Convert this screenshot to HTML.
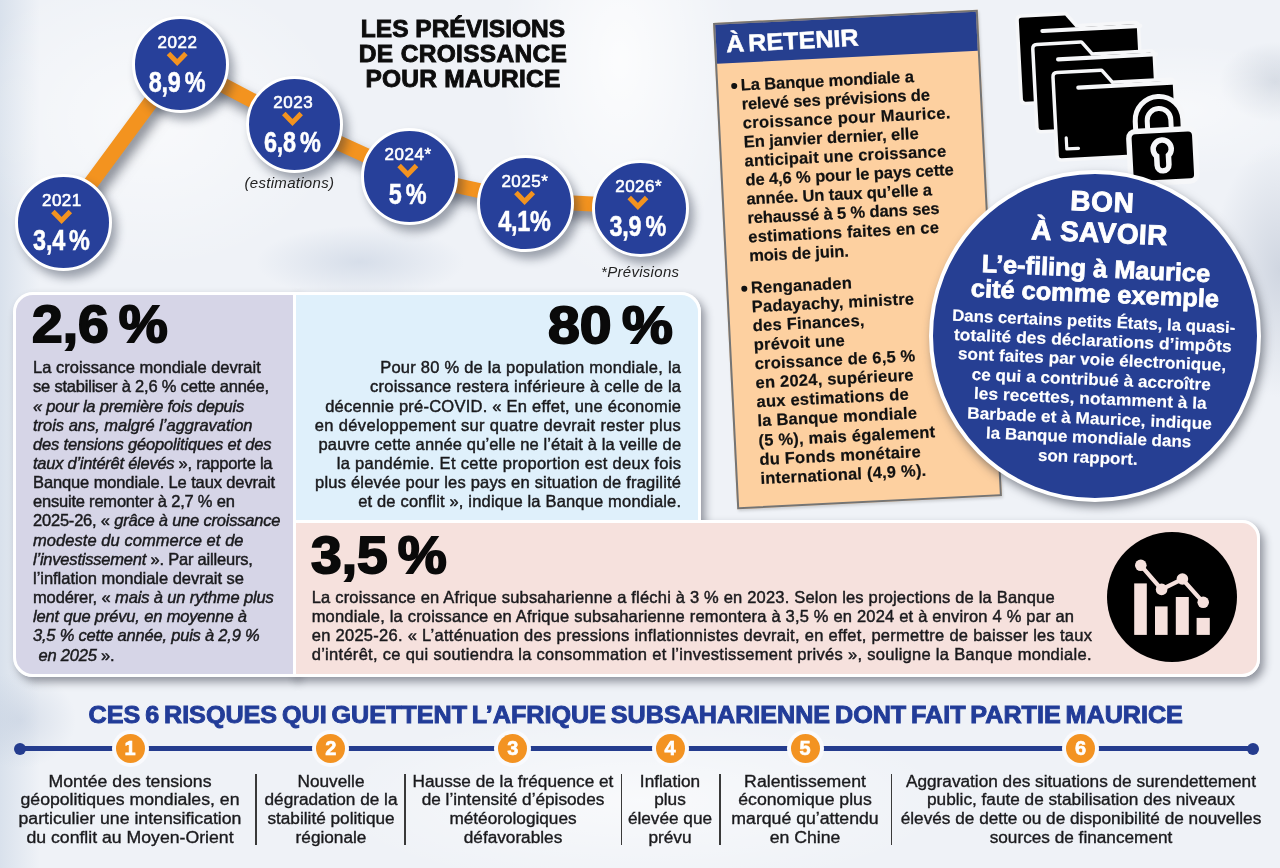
<!DOCTYPE html>
<html lang="fr">
<head>
<meta charset="utf-8">
<title>Les prévisions de croissance pour Maurice</title>
<style>
*{margin:0;padding:0;box-sizing:border-box}
html,body{width:1280px;height:868px;overflow:hidden}
body{position:relative;font-family:"Liberation Sans",sans-serif;color:#1c1c1e;
background:
 radial-gradient(ellipse 160px 300px at 620px 60px, rgba(255,255,255,.8), rgba(255,255,255,0) 75%),
 radial-gradient(ellipse 260px 200px at 150px 120px, rgba(255,255,255,.6), rgba(255,255,255,0) 75%),
 radial-gradient(ellipse 420px 120px at 640px 800px, rgba(255,255,255,.6), rgba(255,255,255,0) 75%),
 radial-gradient(ellipse 200px 90px at 1180px 110px, rgba(255,255,255,.5), rgba(255,255,255,0) 75%),
 radial-gradient(ellipse 90px 170px at 1280px 270px, rgba(170,180,198,.45), rgba(170,180,198,0) 75%),
 radial-gradient(ellipse 70px 50px at 1275px 82px, rgba(175,185,200,.45), rgba(175,185,200,0) 80%),
 radial-gradient(ellipse 130px 45px at 360px 262px, rgba(190,202,220,.5), rgba(190,202,220,0) 80%),
 radial-gradient(ellipse 70px 60px at 20px 720px, rgba(190,202,220,.5), rgba(190,202,220,0) 80%),
 linear-gradient(90deg,rgba(205,216,230,.65) 0px,rgba(205,216,230,0) 40px),
 #eff2f7;}
.abs{position:absolute}
.nw{white-space:nowrap}
/* title */
#title{left:300px;top:17.2px;width:326px;text-align:center;font-weight:bold;font-size:23.8px;line-height:24.7px;letter-spacing:0px;color:#0d0d0d;transform:scaleX(1.03);-webkit-text-stroke:.9px #0d0d0d}
/* growth chart */
.dot{position:absolute;width:97px;height:97px;border-radius:50%;background:#27409a;border:3.5px solid #fff;
 box-shadow:5px 7px 10px rgba(30,40,60,.4);color:#fff;text-align:center}
.dot .yr{position:absolute;left:0;right:0;transform:translateX(var(--dx));top:14.5px;font-size:17px;line-height:20px;letter-spacing:.5px;text-indent:.5px;-webkit-text-stroke:.6px #fff}
.dot svg{position:absolute;left:34px;top:32.5px;transform:translateX(var(--dx))}
.dot .pc{position:absolute;left:-10.6px;right:-10px;top:48px;font-size:30px;font-weight:bold;line-height:30px;transform:translateX(var(--dx)) scaleX(.78);letter-spacing:-.3px;-webkit-text-stroke:.5px #fff}
.ts{letter-spacing:-3px}
.note{font-style:italic;font-size:15px;letter-spacing:.3px;color:#222}

/* panels */
.pan{position:absolute;border:3.5px solid #fff}
.shd{position:absolute;box-shadow:4px 5px 9px rgba(30,35,50,.45)}
.big{position:absolute;font-weight:bold;font-size:52px;line-height:52px;color:#0a0a0a;-webkit-text-stroke:1.9px #0a0a0a;white-space:nowrap;transform:scaleX(1.06);transform-origin:0 0}
.big .sp{letter-spacing:-5px}
.txt{position:absolute;font-size:16.5px;line-height:19.15px;color:#1a1a1d;white-space:nowrap;-webkit-text-stroke:.45px #1a1a1d}
.txt i{font-style:italic}

/* a retenir */
#ret{position:absolute;left:725px;top:15.7px;width:265px;height:487px;transform:rotate(-2.85deg);background:#fdd0a0;border:2px solid #747474;box-shadow:1px 2px 3px rgba(0,0,0,.15)}
#ret .hd{position:absolute;left:0;top:0;right:0;height:39px;background:#263f8f}
#ret .hd span{position:absolute;left:10px;top:7.8px;font-weight:bold;font-size:24px;line-height:24px;color:#fff;transform:scaleX(1.05);transform-origin:0 0;white-space:nowrap;word-spacing:-3px;-webkit-text-stroke:.5px #fff}
#ret .bl{position:absolute;left:22.6px;font-weight:bold;font-size:16.5px;line-height:19.07px;letter-spacing:-.1px;color:#111;white-space:nowrap;-webkit-text-stroke:.2px #111}
#ret .bl:before{content:"";position:absolute;left:-10px;top:7px;width:6px;height:6px;border-radius:50%;background:#111}
/* bon a savoir */
#bon{position:absolute;left:929.3px;top:169.9px;width:332px;height:332px;border-radius:50%;background:#263f93;border:4px solid #fff;box-shadow:3px 5px 10px rgba(30,35,50,.5)}
#bontx{position:absolute;left:942.8px;top:188.4px;width:300px;height:300px;color:#fff;text-align:center;font-weight:bold;transform:rotate(2.5deg);transform-origin:150px 150px;white-space:nowrap}
#bontx div{position:absolute;left:0;right:0}
#bontx .h1{font-size:28px;line-height:28px;letter-spacing:.4px;-webkit-text-stroke:.9px #fff}
#bontx .h2{font-size:25px;line-height:25px;transform:scaleX(1.015);-webkit-text-stroke:.8px #fff}
#bontx .bd{font-size:16.5px;line-height:16.5px;transform:scaleX(1.01);-webkit-text-stroke:.15px #fff}

/* bottom */
#btitle{position:absolute;left:40px;width:1191.5px;top:703.9px;text-align:center;font-weight:bold;font-size:23.4px;line-height:23.4px;color:#223c98;white-space:nowrap;transform:scaleX(1.075);word-spacing:-2px;-webkit-text-stroke:.9px #223c98}
.num{position:absolute;width:37px;height:37px;border-radius:50%;background:#f9fafd;}
.num span{position:absolute;left:4px;top:4px;width:29px;height:29px;border-radius:50%;background:#f39322;color:#fff;font-weight:bold;font-size:20px;line-height:29.5px;text-align:center;-webkit-text-stroke:.6px #fff}
.col{position:absolute;top:772.7px;width:400px;text-align:center;font-size:16px;line-height:18.8px;color:#1a1a1d;white-space:nowrap;transform:scaleX(1.075);-webkit-text-stroke:.35px #1a1a1d}
.sep{position:absolute;top:774px;width:1.6px;height:71px;background:#3a3a3a}
</style>
</head>
<body>

<!-- orange line -->
<svg class="abs" style="left:0;top:0;filter:drop-shadow(4px 8px 6px rgba(40,45,60,.55))" width="720" height="300">
 <polyline points="63,221 180,62.5 294,122.5 409,175 524.5,200.5 640.5,206.5" fill="none" stroke="#f3931f" stroke-width="15" stroke-linejoin="miter"/>
</svg>

<div id="title" class="abs">LES PRÉVISIONS<br><span style="letter-spacing:.3px">DE CROISSANCE</span><br><span style="letter-spacing:.25px">POUR MAURICE</span></div>

<div class="dot" style="left:14.5px;top:173.5px;--dx:-1.4px"><div class="yr">2021</div><svg width="22" height="16"><polyline points="2.3,2.6 11,11.4 19.7,2.6" fill="none" stroke="#f3931f" stroke-width="5"/></svg><div class="pc">3,4<span class="ts"> </span>%</div></div>
<div class="dot" style="left:131.5px;top:15.5px;--dx:-2.8px"><div class="yr">2022</div><svg width="22" height="16"><polyline points="2.3,2.6 11,11.4 19.7,2.6" fill="none" stroke="#f3931f" stroke-width="5"/></svg><div class="pc">8,9<span class="ts"> </span>%</div></div>
<div class="dot" style="left:246px;top:75.5px;--dx:-1.5px"><div class="yr">2023</div><svg width="22" height="16"><polyline points="2.3,2.6 11,11.4 19.7,2.6" fill="none" stroke="#f3931f" stroke-width="5"/></svg><div class="pc">6,8<span class="ts"> </span>%</div></div>
<div class="dot" style="left:360.5px;top:127.5px;--dx:-1.2px"><div class="yr">2024*</div><svg width="22" height="16"><polyline points="2.3,2.6 11,11.4 19.7,2.6" fill="none" stroke="#f3931f" stroke-width="5"/></svg><div class="pc">5<span class="ts"> </span>%</div></div>
<div class="dot" style="left:476.5px;top:154.5px;--dx:-0.4px"><div class="yr">2025*</div><svg width="22" height="16"><polyline points="2.3,2.6 11,11.4 19.7,2.6" fill="none" stroke="#f3931f" stroke-width="5"/></svg><div class="pc">4,1%</div></div>
<div class="dot" style="left:592px;top:159.5px;--dx:-2.1px"><div class="yr">2026*</div><svg width="22" height="16"><polyline points="2.3,2.6 11,11.4 19.7,2.6" fill="none" stroke="#f3931f" stroke-width="5"/></svg><div class="pc">3,9<span class="ts"> </span>%</div></div>

<div class="abs note nw" style="left:244.5px;top:174px">(estimations)</div>
<div class="abs note nw" style="left:601px;top:263px">*Prévisions</div>


<div class="shd" style="left:13px;top:292px;width:283px;height:384.5px;border-radius:20px 0 0 20px"></div>
<div class="shd" style="left:292px;top:292px;width:408.5px;height:231.5px;border-radius:0 20px 0 0"></div>
<div class="shd" style="left:292px;top:520px;width:967.5px;height:156.5px;border-radius:0 18px 18px 0"></div>
<div class="pan" style="left:13px;top:292px;width:282.5px;height:384.5px;border-radius:20px 0 0 20px;background:#d6d5e7"></div>
<div class="pan" style="left:292.5px;top:292px;width:408px;height:231.5px;border-radius:0 20px 0 0;background:#dff0fb"></div>
<div class="pan" style="left:292.5px;top:520px;width:967px;height:156.5px;border-radius:0 18px 18px 0;background:#f6e1dd"></div>

<div class="big" style="left:31.8px;top:298.4px">2,6<span class="sp"> </span>%</div>
<div class="big" style="left:548px;top:299px;transform:scaleX(1.1)">80<span class="sp"> </span>%</div>
<div class="big" style="left:311px;top:528.6px">3,5<span class="sp"> </span>%</div>

<div class="txt" style="left:33px;top:358.2px;letter-spacing:-0.21px"><span style="letter-spacing:0.01px">La croissance mondiale devrait</span><br>se stabiliser à 2,6 % cette année,<br><i>« pour la première fois depuis</i><br><i style="letter-spacing:-0.02px">trois ans, malgré l’aggravation</i><br><i style="letter-spacing:-0.17px">des tensions géopolitiques et des</i><br><i style="letter-spacing:-.26px">taux d’intérêt élevés</i><span style="letter-spacing:-.26px"> », rapporte la</span><br><span style="letter-spacing:-0.12px">Banque mondiale. Le taux devrait</span><br>ensuite remonter à 2,7 % en<br>2025-26, « <i>grâce à une croissance</i><br><i style="letter-spacing:0.06px">modeste du commerce et de</i><br><i>l’investissement</i> ». Par ailleurs,<br><span style="letter-spacing:-0.03px">l’inflation mondiale devrait se</span><br><span style="letter-spacing:-0.13px">modérer, « <i>mais à un rythme plus</i></span><br><i style="letter-spacing:-0.16px">lent que prévu, en moyenne à</i><br><i>3,5 % cette année, puis à 2,9 %</i><br><i><span style="margin-left:5.5px">en 2025</span></i> ».</div>

<div class="txt" style="right:598.8px;top:358.3px;text-align:right;letter-spacing:0.24px">Pour 80 % de la population mondiale, la<br>croissance restera inférieure à celle de la<br>décennie pré-COVID. « En effet, une économie<br><span style="letter-spacing:0.34px">en développement sur quatre devrait rester plus</span><br><span style="letter-spacing:0.13px">pauvre cette année qu’elle ne l’était à la veille de</span><br><span style="letter-spacing:0.29px">la pandémie. Et cette proportion est deux fois</span><br><span style="letter-spacing:0.2px">plus élevée pour les pays en situation de fragilité</span><br><span style="letter-spacing:0.17px">et de conflit », indique la Banque mondiale.</span></div>

<div class="txt" style="left:311.7px;top:587.7px;letter-spacing:0.19px"><span style="letter-spacing:0.19px">La croissance en Afrique subsaharienne a fléchi à 3 % en 2023. Selon les projections de la Banque</span><br>mondiale, la croissance en Afrique subsaharienne remontera à 3,5 % en 2024 et à environ 4 % par an<br><span style="letter-spacing:0.28px">en 2025-26. « L’atténuation des pressions inflationnistes devrait, en effet, permettre de baisser les taux</span><br><span style="letter-spacing:0.29px">d’intérêt, ce qui soutiendra la consommation et l’investissement privés », souligne la Banque mondiale.</span></div>

<!-- chart icon -->
<svg class="abs" style="left:1107px;top:532px" width="130" height="130" viewBox="1107 532 130 130">
 <circle cx="1172" cy="597" r="65" fill="#000"/>
 <g fill="#f6e1dd">
  <rect x="1134.2" y="583.4" width="12.6" height="51.5"/>
  <rect x="1155" y="606.4" width="12.6" height="28.5"/>
  <rect x="1175.8" y="597" width="13" height="37.9"/>
  <rect x="1196.6" y="617.9" width="13.2" height="17"/>
 </g>
 <polyline points="1140.8,565.3 1161.6,589.4 1182.4,579 1203.2,602.3" fill="none" stroke="#f6e1dd" stroke-width="4.2"/>
 <g fill="#f6e1dd"><circle cx="1140.8" cy="565.3" r="5.8"/><circle cx="1161.6" cy="589.4" r="5.8"/><circle cx="1182.4" cy="579" r="5.8"/><circle cx="1203.2" cy="602.3" r="5.8"/></g>
</svg>



<div id="ret">
 <div class="hd"><span>À RETENIR</span></div>
 <div class="bl" style="top:51.7px">La Banque mondiale a<br>relevé ses prévisions de<br><span style="letter-spacing:.39px">croissance pour Maurice.</span><br><span style="letter-spacing:0">En janvier dernier, elle</span><br><span style="letter-spacing:.19px">anticipait une croissance</span><br>de 4,6 % pour le pays cette<br>année. Un taux qu’elle a<br>rehaussé à 5 % dans ses<br><span style="letter-spacing:.2px">estimations faites en ce</span><br>mois de juin.</div>
 <div class="bl" style="top:255px;letter-spacing:.22px">Renganaden<br>Padayachy, ministre<br>des Finances,<br>prévoit une<br>croissance de 6,5 %<br>en 2024, supérieure<br>aux estimations de<br>la Banque mondiale<br>(5 %), mais également<br>du Fonds monétaire<br>international (4,9 %).</div>
</div>



<svg class="abs" style="left:1000px;top:0" width="220" height="200" viewBox="1000 0 220 200">
 <g transform="translate(1018.7,17.9) rotate(-3)"><path d="M0,2.5 Q0,0 2.5,0 L46.5,0 L56.5,12.5 L115,12.5 Q117.5,12.5 117.5,15 L117.5,81.5 Q117.5,84 115,84 L2.5,84 Q0,84 0,81.5 Z" fill="#000" stroke="#f6f7f9" stroke-width="7" paint-order="stroke" stroke-linejoin="round"/><path d="M23,14.3 L121,14.3" stroke="#f6f7f9" stroke-width="4.2" stroke-linecap="round"/></g>
 <g transform="translate(1034.4,46.3) rotate(-3)"><path d="M0,2.5 Q0,0 2.5,0 L46.5,0 L56.5,12.5 L115,12.5 Q117.5,12.5 117.5,15 L117.5,81.5 Q117.5,84 115,84 L2.5,84 Q0,84 0,81.5 Z" fill="#000" stroke="#f6f7f9" stroke-width="7" paint-order="stroke" stroke-linejoin="round"/><path d="M23,14.3 L121,14.3" stroke="#f6f7f9" stroke-width="4.2" stroke-linecap="round"/></g>
 <g transform="translate(1054.6,74.5) rotate(-3)"><path d="M0,2.5 Q0,0 2.5,0 L46.5,0 L56.5,12.5 L115,12.5 Q117.5,12.5 117.5,15 L117.5,81.5 Q117.5,84 115,84 L2.5,84 Q0,84 0,81.5 Z" fill="#000" stroke="#f6f7f9" stroke-width="7" paint-order="stroke" stroke-linejoin="round"/><path d="M23,14.3 L121,14.3" stroke="#f6f7f9" stroke-width="4.2" stroke-linecap="round"/><path d="M8.3,63.8 L8.3,75 L20,75" fill="none" stroke="#f6f7f9" stroke-width="3.2" stroke-linecap="round" stroke-linejoin="round"/></g>
 <g transform="rotate(-3 1162 145)">
  <path d="M1142.5,134 L1142.5,120.1 A17.8,17.8 0 0 1 1178.1,120.1 L1178.1,134" fill="none" stroke="#f6f7f9" stroke-width="17"/>
  <path d="M1142.5,134 L1142.5,120.1 A17.8,17.8 0 0 1 1178.1,120.1 L1178.1,134" fill="none" stroke="#000" stroke-width="7"/>
  <rect x="1132" y="132.8" width="60.5" height="47" rx="4" fill="#000" stroke="#f6f7f9" stroke-width="11" paint-order="stroke"/>
  <path d="M1158.85,154.46 A6.3,6.3 0 1 1 1165.15,154.46 L1165.15,165 A3.15,3.15 0 0 1 1158.85,165 Z" fill="#000" stroke="#f6f7f9" stroke-width="11" stroke-linejoin="round" paint-order="stroke"/>
 </g>
</svg>



<div id="bon"></div>
<div id="bontx">
 <div class="h1" style="top:-0.3px;left:7px;letter-spacing:.6px">BON</div>
 <div class="h1" style="top:30.7px;left:4px">À SAVOIR</div>
 <div class="h2" style="top:68.3px">L’e-filing à Maurice</div>
 <div class="h2" style="top:93.2px">cité comme exemple</div>
 <div class="bd" style="top:124.5px;transform:scaleX(1.020)">Dans certains petits États, la quasi-</div>
 <div class="bd" style="top:144.0px;transform:scaleX(1.060)">totalité des déclarations d’impôts</div>
 <div class="bd" style="top:163.4px;transform:scaleX(1.042)">sont faites par voie électronique,</div>
 <div class="bd" style="top:182.8px;transform:scaleX(1.044)">ce qui a contribué à accroître</div>
 <div class="bd" style="top:202.3px;transform:scaleX(1.054)">les recettes, notamment à la</div>
 <div class="bd" style="top:221.7px;transform:scaleX(1.047)">Barbade et à Maurice, indique</div>
 <div class="bd" style="top:241.1px;transform:scaleX(1.033)">la Banque mondiale dans</div>
 <div class="bd" style="top:260.5px;transform:scaleX(1.037)">son rapport.</div>
</div>

</div>



<div id="btitle">CES 6 RISQUES QUI GUETTENT L’AFRIQUE SUBSAHARIENNE DONT FAIT PARTIE MAURICE</div>
<div class="abs" style="left:19.6px;top:746.25px;width:1233px;height:5px;background:#243c8e"></div>
<div class="abs" style="left:13.6px;top:742.75px;width:12px;height:12px;border-radius:50%;background:#243c8e"></div>
<div class="abs" style="left:1246.5px;top:742.75px;width:12px;height:12px;border-radius:50%;background:#243c8e"></div>
<div class="num" style="left:111.50px;top:730.25px"><span>1</span></div>
<div class="num" style="left:312.25px;top:730.25px"><span>2</span></div>
<div class="num" style="left:494.30px;top:730.25px"><span>3</span></div>
<div class="num" style="left:651.60px;top:730.25px"><span>4</span></div>
<div class="num" style="left:786.50px;top:730.25px"><span>5</span></div>
<div class="num" style="left:1062.00px;top:730.25px"><span>6</span></div>
<div class="col" style="left:-70.00px;transform:scaleX(1.104)">Montée des tensions<br>géopolitiques mondiales, en<br>particulier une intensification<br>du conflit au Moyen-Orient</div>
<div class="col" style="left:130.75px">Nouvelle<br>dégradation de la<br>stabilité politique<br>régionale</div>
<div class="col" style="left:312.80px">Hausse de la fréquence et<br>de l’intensité d’épisodes<br>météorologiques<br>défavorables</div>
<div class="col" style="left:470.10px">Inflation<br>plus<br>élevée que<br>prévu</div>
<div class="col" style="left:605.00px;transform:scaleX(1.104)">Ralentissement<br>économique plus<br>marqué qu’attendu<br>en Chine</div>
<div class="col" style="left:880.50px">Aggravation des situations de surendettement<br>public, faute de stabilisation des niveaux<br>élevés de dette ou de disponibilité de nouvelles<br>sources de financement</div>
<div class="sep" style="left:255.2px"></div>
<div class="sep" style="left:404.2px"></div>
<div class="sep" style="left:620.7px"></div>
<div class="sep" style="left:719.2px"></div>
<div class="sep" style="left:890.7px"></div>


</body>
</html>
